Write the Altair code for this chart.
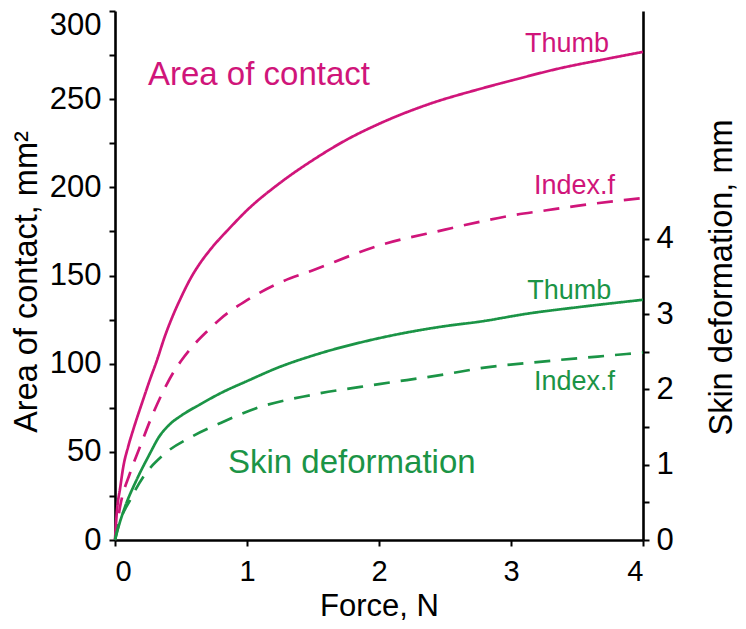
import altair as alt
import pandas as pd

# ---- data ----
force_thumb_area = [0, 0.013, 0.04, 0.063, 0.1, 0.14, 0.215, 0.265, 0.316, 0.38, 0.44, 0.5, 0.57, 0.64, 0.72, 0.87, 1.0, 1.25, 1.5, 1.755, 2.0, 2.39, 2.75, 3.0, 3.37, 3.7, 4.0]
area_thumb = [0, 15, 30, 41.6, 53, 63, 80, 91, 101.5, 116, 127.5, 137.5, 148, 156.5, 164.5, 177, 187, 202.5, 215.5, 227, 236, 247.5, 255.5, 260.5, 267.5, 272.5, 276.8]

force_index_area = [0, 0.038, 0.114, 0.19, 0.29, 0.39, 0.45, 0.5, 0.59, 0.7, 0.8, 1.0, 1.25, 1.5, 2.0, 2.5, 2.765, 3.0, 3.27, 3.5, 4.0]
area_index = [0, 18.7, 38, 53, 72, 88, 96, 101.5, 110, 118.5, 125.5, 136, 146, 153, 167, 176, 180.5, 184, 187, 189.5, 194]

force_thumb_def = [0, 0.013, 0.076, 0.164, 0.265, 0.33, 0.417, 0.5, 0.644, 0.8, 1.0, 1.25, 1.5, 2.0, 2.5, 2.765, 3.14, 3.5, 4.0]
def_thumb = [0, 0.09, 0.44, 0.8, 1.15, 1.36, 1.54, 1.65, 1.80, 1.95, 2.11, 2.3, 2.45, 2.68, 2.84, 2.9, 3.01, 3.09, 3.19]

force_index_def = [0, 0.025, 0.114, 0.215, 0.366, 0.59, 0.795, 1.07, 1.5, 2.0, 2.5, 2.765, 3.3, 3.875, 4.0]
def_index = [0, 0.18, 0.53, 0.84, 1.13, 1.38, 1.55, 1.75, 1.93, 2.07, 2.2, 2.28, 2.38, 2.47, 2.49]

x_ticks = [0, 1, 2, 3, 4]
area_ticks = list(range(0, 301, 25))
def_ticks = [0, 0.5, 1, 1.5, 2, 2.5, 3, 3.5, 4]

area_big_label = ["Area of contact"]
area_big_f = [0.25]
area_big_a = [258]

area_small_labels = ["Thumb", "Index.f"]
area_small_f = [3.742, 3.788]
area_small_a = [276.8, 196.2]

def_big_label = ["Skin deformation"]
def_big_f = [0.856]
def_big_d = [0.89]

def_small_labels = ["Thumb", "Index.f"]
def_small_f = [3.76, 3.788]
def_small_d = [3.2, 1.99]

MAG = "#d0157a"
GRN = "#1b9446"
FONT = "Liberation Sans"

area_df = pd.concat([
    pd.DataFrame({"F": force_thumb_area, "A": area_thumb, "finger": "Thumb"}),
    pd.DataFrame({"F": force_index_area, "A": area_index, "finger": "Index.f"}),
])
def_df = pd.concat([
    pd.DataFrame({"F": force_thumb_def, "D": def_thumb, "finger": "Thumb"}),
    pd.DataFrame({"F": force_index_def, "D": def_index, "finger": "Index.f"}),
])

x_enc = alt.X(
    "F:Q",
    scale=alt.Scale(domain=[0, 4], nice=False, zero=False),
    axis=alt.Axis(
        values=x_ticks, title="Force, N", labelPadding=11, labelFontSize=29,
        titleY=75, titleBaseline="alphabetic", titleAlign="center", titleFontSize=31,
    ),
)

y_area = alt.Y(
    "A:Q",
    scale=alt.Scale(domain=[0, 300], nice=False, zero=False),
    axis=alt.Axis(
        orient="left", values=area_ticks,
        labelExpr="datum.value % 50 === 0 ? '' + datum.value : ''",
        labelPadding=8,
        labelOffset=alt.condition("datum.value == 300", alt.value(14), alt.value(0)),
        title="Area of contact, mm²", titleAngle=270, titleAlign="center",
        titleBaseline="alphabetic", titleX=-79, titleY=270.5,
    ),
)

y_def = alt.Y(
    "D:Q",
    scale=alt.Scale(domain=[0, 7.025], nice=False, zero=False),
    axis=alt.Axis(
        orient="right", values=def_ticks,
        labelExpr="datum.value % 1 === 0 ? '' + datum.value : ''",
        labelPadding=7,
        title="Skin deformation, mm", titleAngle=270, titleAlign="center",
        titleBaseline="alphabetic", titleX=88, titleY=266,
    ),
)

dash = alt.StrokeDash(
    "finger:N",
    scale=alt.Scale(domain=["Thumb", "Index.f"], range=[[1, 0], [16, 11]]),
    legend=None,
)

area_lines = alt.Chart(area_df).mark_line(
    color=MAG, strokeWidth=2.7, strokeCap="butt", interpolate="monotone"
).encode(x=x_enc, y=y_area, strokeDash=dash, detail="finger:N", order="F:Q")
area_big = alt.Chart(pd.DataFrame({"F": area_big_f, "A": area_big_a, "t": area_big_label})).mark_text(
    color=MAG, font=FONT, fontSize=33, align="left", baseline="alphabetic"
).encode(x=x_enc, y=y_area, text="t:N")
area_small = alt.Chart(pd.DataFrame({"F": area_small_f, "A": area_small_a, "t": area_small_labels})).mark_text(
    color=MAG, font=FONT, fontSize=27, align="right", baseline="alphabetic"
).encode(x=x_enc, y=y_area, text="t:N")

def_lines = alt.Chart(def_df).mark_line(
    color=GRN, strokeWidth=2.7, strokeCap="butt", interpolate="monotone"
).encode(x=x_enc, y=y_def, strokeDash=dash, detail="finger:N", order="F:Q")
def_big = alt.Chart(pd.DataFrame({"F": def_big_f, "D": def_big_d, "t": def_big_label})).mark_text(
    color=GRN, font=FONT, fontSize=33, align="left", baseline="alphabetic"
).encode(x=x_enc, y=y_def, text="t:N")
def_small = alt.Chart(pd.DataFrame({"F": def_small_f, "D": def_small_d, "t": def_small_labels})).mark_text(
    color=GRN, font=FONT, fontSize=27, align="right", baseline="alphabetic"
).encode(x=x_enc, y=y_def, text="t:N")

area_layer = alt.layer(area_lines, area_big, area_small)
def_layer = alt.layer(def_lines, def_big, def_small)

chart = alt.layer(area_layer, def_layer).resolve_scale(y="independent").properties(
    width=528, height=529,
    autosize=alt.AutoSizeParams(type="none"),
    padding={"left": 107, "top": 3, "right": 95, "bottom": 81},
    background="white",
).configure_view(stroke=None).configure_axis(
    grid=False,
    domainColor="black", domainWidth=2.6,
    tickColor="black", tickWidth=2, tickSize=6,
    labelFont=FONT, labelFontSize=31, labelColor="black",
    titleFont=FONT, titleFontSize=32.5, titleFontWeight="normal", titleColor="black",
)

chart.save("out.html", embed_options={"renderer": "svg", "actions": False})
